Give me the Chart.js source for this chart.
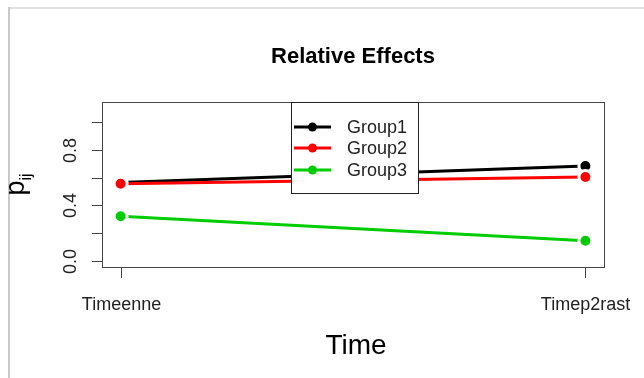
<!DOCTYPE html>
<html>
<head>
<meta charset="utf-8">
<script src="https://cdn.jsdelivr.net/npm/chart.js@4"></script>
<style>
html,body{margin:0;padding:0;background:#fff;}
canvas{display:block;}
</style>
</head>
<body>
<canvas id="c" width="644" height="378"></canvas>
<script>
const categories = ['Timeenne', 'Timep2rast'];
const seriesNames = ['Group1', 'Group2', 'Group3'];
const group1 = [0.565, 0.683];
const group2 = [0.555, 0.604];
const group3 = [0.321, 0.145];
const yTicks = [0, 0.2, 0.4, 0.6, 0.8, 1.0];
const yTickLabels = ['0.0', '', '0.4', '', '0.8', ''];
const colors = ['#000000', '#FF0000', '#00CD00'];
const title = 'Relative Effects';
const xTitle = 'Time';

const FONT = '"Liberation Sans", Arial, sans-serif';
const values = [group1, group2, group3];

const datasets = values.map((vals, i) => ({
  label: seriesNames[i],
  data: vals.map((v, j) => ({x: j + 1, y: v})),
  borderColor: colors[i],
  backgroundColor: colors[i],
  borderWidth: 3,
  pointRadius: 6.5,
  pointBorderWidth: 3,
  pointBorderColor: '#ffffff',
  pointBackgroundColor: colors[i],
  tension: 0,
  order: 3 - i,
  clip: false
}));

const decor = {
  id: 'decor',
  afterDraw(chart) {
    const ctx = chart.ctx;
    const xs = chart.scales.x, ys = chart.scales.y;
    const a = chart.chartArea;
    ctx.save();
    // outer frame
    ctx.fillStyle = '#e0e0e0';
    ctx.fillRect(8, 7, 644 - 8, 2);
    ctx.fillStyle = '#c8c8c8';
    ctx.fillRect(8, 7, 2, 378 - 7);

    // plot box
    ctx.strokeStyle = '#444';
    ctx.lineWidth = 1;
    ctx.strokeRect(Math.round(a.left) + 0.5, Math.round(a.top) + 0.5,
                   Math.round(a.right - a.left), Math.round(a.bottom - a.top));

    // y axis ticks
    ctx.fillStyle = '#222';
    ctx.font = '18px ' + FONT;
    yTicks.forEach((t, i) => {
      const py = Math.round(ys.getPixelForValue(t)) + 0.5;
      ctx.beginPath();
      ctx.moveTo(a.left - 10, py);
      ctx.lineTo(a.left, py);
      ctx.stroke();
      if (yTickLabels[i]) {
        ctx.save();
        ctx.translate(76, py);
        ctx.rotate(-Math.PI / 2);
        ctx.textAlign = 'center';
        ctx.textBaseline = 'alphabetic';
        ctx.fillText(yTickLabels[i], 0, 0);
        ctx.restore();
      }
    });
    // x axis ticks
    categories.forEach((c, i) => {
      const px = Math.round(xs.getPixelForValue(i + 1)) + 0.5;
      ctx.beginPath();
      ctx.moveTo(px, a.bottom);
      ctx.lineTo(px, a.bottom + 11);
      ctx.stroke();
      ctx.textAlign = 'center';
      ctx.textBaseline = 'middle';
      ctx.fillText(c, px, 305);
    });

    // title
    ctx.fillStyle = '#000';
    ctx.font = 'bold 22px ' + FONT;
    ctx.textAlign = 'center';
    ctx.textBaseline = 'middle';
    ctx.fillText(title, (a.left + a.right) / 2, 57);

    // x title
    ctx.font = '28px ' + FONT;
    ctx.fillText(xTitle, (a.left + a.right) / 2 + 3, 346);

    // y title p_ij
    ctx.save();
    ctx.translate(24, (a.top + a.bottom) / 2);
    ctx.rotate(-Math.PI / 2);
    ctx.textAlign = 'left';
    ctx.textBaseline = 'alphabetic';
    ctx.font = '27px ' + FONT;
    const pw = ctx.measureText('p').width;
    ctx.font = '16px ' + FONT;
    const sw = ctx.measureText('ij').width;
    const start = -(pw + sw) / 2;
    ctx.font = '27px ' + FONT;
    ctx.fillText('p', start, 0);
    ctx.font = '16px ' + FONT;
    ctx.fillText('ij', start + pw, 7);
    ctx.restore();

    // legend
    const lx0 = 291, lx1 = 418, ly0 = Math.round(a.top), ly1 = 193;
    ctx.fillStyle = '#fff';
    ctx.fillRect(lx0, ly0, lx1 - lx0, ly1 - ly0);
    ctx.strokeStyle = '#222';
    ctx.lineWidth = 1;
    ctx.strokeRect(lx0 + 0.5, ly0 + 0.5, lx1 - lx0, ly1 - ly0);
    const rowY = [127, 148, 170];
    seriesNames.forEach((n, i) => {
      const y = rowY[i];
      ctx.strokeStyle = colors[i];
      ctx.lineWidth = 3;
      ctx.beginPath();
      ctx.moveTo(294, y);
      ctx.lineTo(331, y);
      ctx.stroke();
      ctx.fillStyle = colors[i];
      ctx.beginPath();
      ctx.arc(312.5, y, 4.5, 0, Math.PI * 2);
      ctx.fill();
      ctx.fillStyle = '#222';
      ctx.font = '18px ' + FONT;
      ctx.textAlign = 'left';
      ctx.textBaseline = 'middle';
      ctx.fillText(n, 347, y + 1);
    });
    ctx.restore();
  }
};

new Chart(document.getElementById('c'), {
  type: 'line',
  data: {datasets},
  options: {
    responsive: false,
    animation: false,
    devicePixelRatio: 1,
    layout: {padding: {left: 102, right: 40, top: 102, bottom: 111}},
    plugins: {legend: {display: false}, tooltip: {enabled: false}, title: {display: false}},
    scales: {
      x: {type: 'linear', min: 0.96, max: 2.04, display: false},
      y: {type: 'linear', min: -0.044, max: 1.144, display: false}
    }
  },
  plugins: [decor]
});
</script>
</body>
</html>
